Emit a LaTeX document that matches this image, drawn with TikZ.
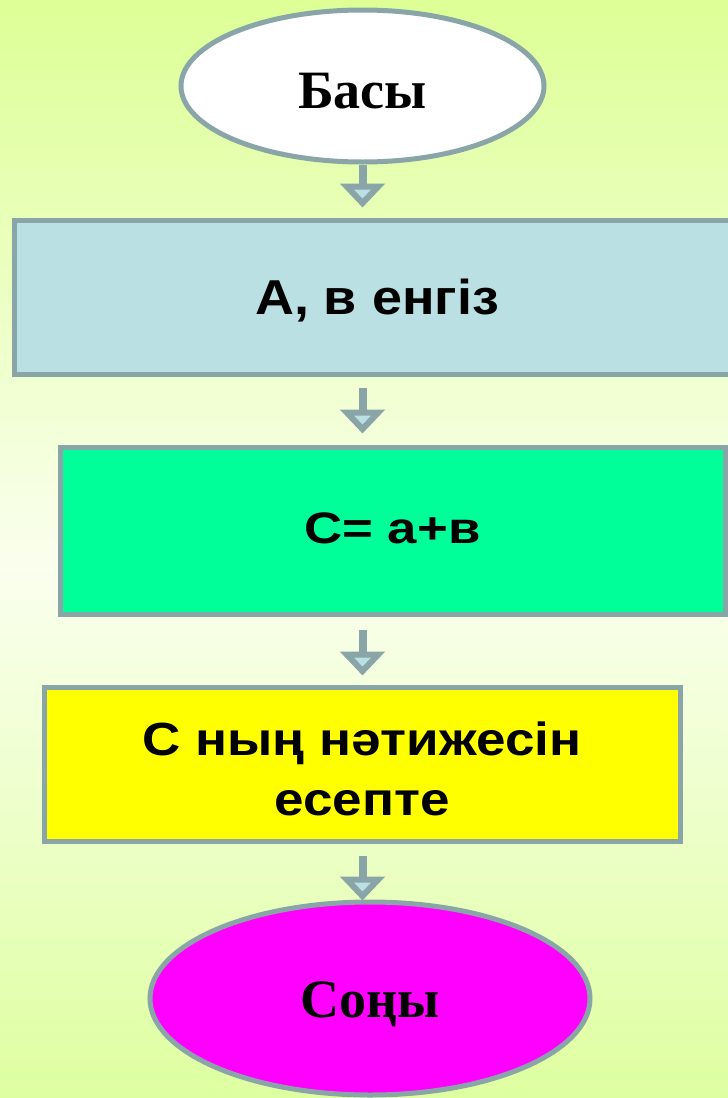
\documentclass[tikz,border=0pt]{standalone}
\usepackage{fontspec}
\usetikzlibrary{shapes.geometric,arrows.meta}
\newfontfamily\sansA[FakeStretch=1.1]{Liberation Sans}
\newfontfamily\sansB[FakeStretch=1.2]{Liberation Sans}
\newfontfamily\sansC[FakeStretch=1.14]{Liberation Sans}
\newfontfamily\flowserif{Liberation Serif}
\definecolor{bordergray}{RGB}{138,165,168}
\definecolor{inblue}{RGB}{186,224,227}
\definecolor{calcgreen}{RGB}{0,255,153}
\definecolor{outyellow}{RGB}{255,255,0}
\definecolor{endmagenta}{RGB}{255,0,255}
\definecolor{bgtop}{RGB}{221,255,150}
\definecolor{bgmid}{RGB}{250,255,238}
\definecolor{bgbot}{RGB}{222,255,160}
\tikzset{
  terminal/.style={ellipse, draw=bordergray, line width=5pt, inner sep=0pt,
    font=\flowserif\bfseries\fontsize{54}{60}\selectfont, text depth=0pt},
  procbox/.style={rectangle, draw=bordergray, line width=5pt, inner sep=0pt, text depth=0pt},
  flowarrow/.style={draw=bordergray, line width=8pt,
    -{Triangle[width=44pt,length=24pt,line width=6pt,fill=inblue]}}
}
\begin{document}
\begin{tikzpicture}[x=1pt,y=-1pt]
\shade[top color=bgtop, bottom color=bgmid] (0,0) rectangle (728,570);
\shade[top color=bgmid, bottom color=bgbot] (0,570) rectangle (728,1098);
\useasboundingbox (0,0) rectangle (728,1098);

\node[terminal, fill=white, minimum width=363pt, minimum height=152pt, text height=44pt]
  (start) at (362.5,86) {Басы};
\node[procbox, fill=inblue, minimum width=726pt, minimum height=154pt, text height=34pt,
  font=\sansA\bfseries\fontsize{49}{60}\selectfont]
  (input) at (377,297) {А, в енгіз};
\node[procbox, fill=calcgreen, minimum width=665pt, minimum height=167pt, text height=25pt,
  font=\sansB\bfseries\fontsize{44}{60}\selectfont]
  (calc) at (392.5,530.5) {С= а+в};
\node[procbox, fill=outyellow, minimum width=636pt, minimum height=154pt, align=center,
  font=\sansC\bfseries\fontsize{46.5}{60}\selectfont,
  text height=102pt, text depth=0pt]
  (result) at (362,764) {С ның нәтижесін\\есепте};
\node[terminal, fill=endmagenta, minimum width=440pt, minimum height=193pt, text height=37pt]
  (stop) at (370,998.5) {Соңы};

\draw[flowarrow, shorten >=10pt] (start.south) -- (start.south |- input.north);
\draw[flowarrow, shorten <=11pt, shorten >=11pt] (input.south -| start.south) -- (start.south |- calc.north);
\draw[flowarrow, shorten <=13pt, shorten >=9pt] (calc.south -| start.south) -- (start.south |- result.north);
\draw[flowarrow, shorten <=12pt, shorten >=-1pt] (result.south -| start.south) -- (start.south |- stop.north);
\end{tikzpicture}
\end{document}
